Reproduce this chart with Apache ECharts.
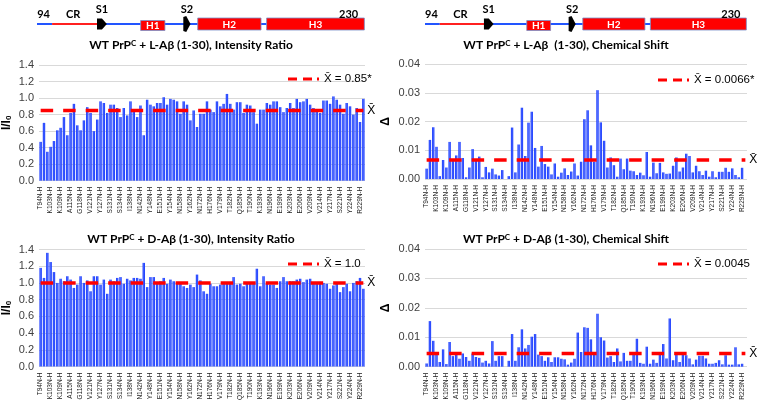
<!DOCTYPE html>
<html><head><meta charset="utf-8">
<script src="https://cdn.jsdelivr.net/npm/echarts@6/dist/echarts.min.js"></script>
<style>html,body{margin:0;padding:0;background:#fff}#c{width:762px;height:405px}</style>
</head><body><div id="c"></div>
<script>
// residue categories (every third one is labelled on the axis)
const residues = ['T94','Q97','N99','K103','K105','T106','K109','V111','A112','A115','A116','A117',
'G118','A119','V120','V121','G122','L124','Y127','M128','L129','S131','A132','M133',
'S134','R135','M137','I138','H139','F140','N142','D143','W144','Y148','Y149','R150',
'E151','N152','M153','Y154','R155','Y156','N158','Q159','V160','Y162','R163','Q171',
'N172','N173','F174','H176','D177','C178','V179','N180','I181','T182','I183','K184',
'Q185','H186','T187','T190','T191','T192','K193','G194','E195','N196','F197','T198',
'E199','T200','D201','K203','M204','M205','E206','R207','V208','V209','E210','Q211',
'V214','T215','Q216','Y217','Q218','K219','S221','Q222','A223','Y224','Y225','D226',
'R229','S230'];
const categories = residues.map(r => r + 'N-H');

// WT PrPC + L-Abeta(1-30), intensity ratio I/I0
const ratioL = [0.47,0.70,0.35,0.41,0.48,0.61,0.64,0.77,0.55,0.82,
0.93,0.67,0.61,0.73,0.89,0.82,0.60,0.74,0.96,0.94,
0.82,0.92,0.92,0.88,0.77,0.88,0.79,0.96,0.86,0.77,
0.91,0.55,0.98,0.92,0.90,0.94,0.94,1.01,0.92,0.99,
0.98,0.96,0.81,0.96,0.92,0.73,0.85,0.65,0.81,
0.81,0.96,0.86,0.83,0.96,0.90,0.93,1.05,0.93,0.86,0.95,0.95,0.82,0.92,0.91,0.83,0.69,0.86,0.86,0.94,0.92,0.96,0.96,0.89,0.83,0.88,0.94,0.88,0.99,0.95,0.96,0.99,0.92,0.88,0.86,0.82,0.97,0.97,0.93,1.02,0.98,0.92,0.81,0.94,0.90,0.80,0.88,0.71,0.99];
// WT PrPC + D-Abeta(1-30), intensity ratio I/I0
const ratioD = [1.18,1.06,1.36,1.25,1.13,1.00,1.05,1.02,1.08,1.04,
0.94,0.98,1.08,1.00,1.03,0.90,1.08,1.08,0.98,1.04,
0.87,1.04,1.02,1.06,1.07,0.99,1.05,1.03,1.06,1.06,
1.05,1.24,0.95,1.07,1.07,1.01,1.02,1.06,0.99,1.04,
1.02,1.01,1.00,0.96,0.94,0.98,0.95,1.10,1.03,
0.90,0.87,0.99,0.96,0.96,0.98,1.01,1.01,0.99,1.07,0.98,0.99,0.96,1.01,1.01,1.01,1.17,0.96,1.08,0.99,0.98,0.98,0.94,1.02,1.07,1.02,1.02,1.02,1.04,1.05,1.01,1.04,1.05,1.01,1.00,1.00,1.00,0.99,0.93,0.97,1.00,0.89,0.95,0.99,0.90,1.00,1.02,1.06,0.93];
// WT PrPC + L-Abeta(1-30), chemical shift perturbation
const shiftL = [0.0036,0.0136,0.018,0.0112,0.001,0.0066,0.004,0.0129,0.0063,0.0082,
0.0129,0.0073,0.0006,0.004,0.0104,0.0064,0.0078,0.0006,0.0042,0.0023,
0.0036,0.0016,0.0012,0.0031,0,0.001,0.0179,0.0023,0.012,0.0248,
0.008,0.0196,0.0234,0.0108,0.0043,0.0115,0.0052,0.0043,0.0016,0.0054,
0.0008,0.0022,0.0037,0.0014,0.0026,0.0054,0.0012,
0.006,0.0208,0.0239,0.0117,0.006,0.0309,0.0197,0.0133,0.004,0.0075,0.0048,0.0008,0.0071,0.0034,0.0071,0.0029,0.0027,0.0014,0.0022,0.0013,0.0094,0.0008,0.0057,0.002,0.0056,0.0023,0.0018,0.0019,0.0046,0.0075,0.0026,0.004,0.0088,0.008,0.0023,0.0046,0.0027,0.0014,0.0029,0.0008,0.0027,0.0006,0.0025,0.0025,0.0039,0.0025,0.0037,0.0014,0.0006,0.0039];
// WT PrPC + D-Abeta(1-30), chemical shift perturbation
const shiftD = [0.0011,0.0155,0.0088,0.0045,0.0016,0.0059,0.0009,0.0084,0.0036,0.0048,
0.0027,0.0045,0.0033,0.002,0.0045,0.0033,0.003,0.0014,0.002,0.0011,
0.0087,0.002,0.0036,0.0036,0,0.002,0.0111,0.002,0.0066,0.0127,
0.0062,0.0074,0.0102,0.0111,0.0041,0.0036,0.002,0.0032,0.0016,0.0032,
0.0032,0.0027,0.0025,0.0007,0.0014,0.0027,0.0116,
0.005,0.0134,0.0132,0.0093,0.0045,0.018,0.01,0.0089,0.0031,0.0036,0.0016,0.0062,0.0018,0.0047,0.002,0.002,0.0045,0.0095,0.0013,0.001,0.0068,0.001,0.0024,0.0013,0.0043,0.0077,0.0028,0.0164,0.0022,0.0045,0.0016,0.0041,0.0039,0.0028,0.0008,0.0024,0.0037,0.0037,0.0028,0.001,0.001,0.0013,0.0022,0.0008,0.0039,0.0007,0.0007,0.0066,0.0008,0.001];

const means = [0.85, 1.0, 0.0066, 0.0045];
const meanNames = ['X\u0304 = 0.85*', 'X\u0304 = 1.0', 'X\u0304 = 0.0066*', 'X\u0304 = 0.0045'];
const titles = ['WT PrP{s|C} + L-A\u03b2 (1-30), Intensity Ratio',
                'WT PrP{s|C} + D-A\u03b2 (1-30), Intensity Ratio',
                'WT PrP{s|C} + L-A\u03b2  (1-30), Chemical Shift',
                'WT PrP{s|C} + D-A\u03b2 (1-30), Chemical Shift'];
const yMax = [1.4, 1.4, 0.04, 0.04];
const yStep = [0.2, 0.2, 0.01, 0.01];
const yDigits = [1, 1, 2, 2];
const panelData = [ratioL, ratioD, shiftL, shiftD];

const grids = [
  {left: 37, top: 65, width: 328, height: 115.7},
  {left: 37, top: 249.5, width: 328, height: 117},
  {left: 425, top: 64, width: 322, height: 115},
  {left: 425, top: 249, width: 322, height: 117.7}
];
const titlePos = [[186, 34], [186, 228], [561, 34], [561, 228]];
const legendPos = [[283, 68], [283, 253], [653, 69], [653, 253]];

const barColor = new echarts.graphic.LinearGradient(0, 0, 1, 0, [
  {offset: 0, color: '#0a2cff'}, {offset: 0.5, color: '#4d6bff'}, {offset: 1, color: '#0a2cff'}]);

const xAxes = [], yAxes = [], series = [], legends = [], titleArr = [];
for (let i = 0; i < 4; i++) {
  xAxes.push({
    type: 'category', gridIndex: i, data: categories,
    axisLine: {show: false}, axisTick: {show: false},
    axisLabel: {rotate: 90, interval: 2, fontSize: 6.5, color: '#222', margin: 6,
                fontFamily: 'Liberation Sans'}
  });
  yAxes.push({
    type: 'value', gridIndex: i, min: 0, max: yMax[i], interval: yStep[i],
    name: i < 2 ? '{a|I/I}{b|0}' : '\u0394',
    nameLocation: 'middle', nameGap: i < 2 ? 26 : 33, nameRotate: 90,
    nameTextStyle: {fontWeight: 'bold', fontSize: 12, color: '#000', fontFamily: 'Liberation Sans',
      rich: {a: {fontWeight: 'bold', fontSize: 12, color: '#000', fontFamily: 'Liberation Sans'},
             b: {fontWeight: 'bold', fontSize: 8, color: '#000', verticalAlign: 'bottom', fontFamily: 'Liberation Sans'}}},
    axisLine: {show: false}, axisTick: {show: false},
    splitLine: {lineStyle: {color: '#d9d9d9', width: 1}},
    axisLabel: {fontSize: 11, color: '#404040', margin: 5, fontFamily: 'Liberation Sans',
                formatter: v => v.toFixed(yDigits[i])}
  });
  series.push({
    type: 'bar', xAxisIndex: i, yAxisIndex: i, data: panelData[i],
    barCategoryGap: '28%', itemStyle: {color: barColor}, silent: true, animation: false
  });
  series.push({
    type: 'line', name: meanNames[i], xAxisIndex: i, yAxisIndex: i,
    data: categories.map(() => means[i]), symbol: 'none', showSymbol: false, z: 5, animation: false,
    lineStyle: {color: '#ff0000', width: 3.5, type: [12.5, 10]},
    itemStyle: {color: '#ff0000'},
    endLabel: {show: true, formatter: 'X\u0304', fontSize: 12, color: '#000', distance: 4,
               fontFamily: 'Liberation Sans'}
  });
  legends.push({
    data: [{name: meanNames[i],
            icon: 'path://M0,0h9v3h-9z M15,0h9v3h-9z M29,0h2v3h-2z'}],
    left: legendPos[i][0], top: legendPos[i][1],
    itemWidth: 31, itemHeight: 3.5, itemGap: 4,
    itemStyle: {color: '#ff0000', borderWidth: 0},
    textStyle: {fontSize: 11.5, color: '#000', fontFamily: 'Liberation Sans'},
    selectedMode: false
  });
  titleArr.push({
    text: titles[i], left: titlePos[i][0], top: titlePos[i][1], textAlign: 'center',
    textStyle: {fontSize: 12, fontWeight: 'bold', color: '#000', fontFamily: 'Lato',
      rich: {s: {fontSize: 8, fontWeight: 'bold', color: '#000', verticalAlign: 'top', fontFamily: 'Lato'}}}
  });
}

// domain schematic of PrP (94-230) above each column
function schematic(x0, w) {
  const X = f => x0 + f * w;
  const els = [];
  const seg = (a, b, c) => els.push({type: 'line', shape: {x1: X(a), y1: 24, x2: X(b), y2: 24},
                                      style: {stroke: c, lineWidth: 2}});
  seg(0, 0.046, '#2255ff'); seg(0.046, 0.185, '#ff2020'); seg(0.21, 0.316, '#2255ff');
  seg(0.388, 0.448, '#2255ff'); seg(0.465, 0.49, '#2255ff'); seg(0.683, 0.7, '#2255ff');
  const box = (a, b, y1, y2, t) => {
    els.push({type: 'rect', shape: {x: X(a), y: y1, width: X(b) - X(a), height: y2 - y1},
              style: {fill: '#ff0000', stroke: '#7a8fc8', lineWidth: 0.8}});
    els.push({type: 'text', x: (X(a) + X(b)) / 2, y: (y1 + y2) / 2 + 0.5,
              style: {text: t, fill: '#fff', font: 'bold 10px Lato', align: 'center', verticalAlign: 'middle'}});
  };
  box(0.316, 0.39, 20.5, 30.5, 'H1'); box(0.49, 0.683, 18, 30, 'H2'); box(0.7, 0.998, 18, 30, 'H3');
  const a1 = X(0.183), a2 = X(0.198), a3 = X(0.213);
  els.push({type: 'polygon', shape: {points: [[a1, 18.5], [a2, 18.5], [a3, 24], [a2, 29.5], [a1, 29.5]]},
            style: {fill: '#000'}});
  const b1 = X(0.446), b2 = X(0.455), b3 = X(0.468);
  els.push({type: 'polygon', shape: {points: [[b1, 17], [b2, 16], [b3, 24], [b2, 32], [b1, 31]]},
            style: {fill: '#000'}});
  const txt = (f, y, t) => els.push({type: 'text', x: X(f), y: y,
      style: {text: t, fill: '#000', font: 'bold 11px Lato', align: 'center', verticalAlign: 'middle'}});
  txt(0.02, 14, '94'); txt(0.11, 14, 'CR'); txt(0.198, 9, 'S1'); txt(0.457, 9, 'S2'); txt(0.95, 14, '230');
  return els;
}

const chart = echarts.init(document.getElementById('c'), null, {renderer: 'canvas'});
chart.setOption({
  animation: false,
  backgroundColor: '#fff',
  title: titleArr,
  legend: legends,
  grid: grids,
  xAxis: xAxes,
  yAxis: yAxes,
  series: series,
  graphic: schematic(37, 328).concat(schematic(425, 322))
});
</script></body></html>
